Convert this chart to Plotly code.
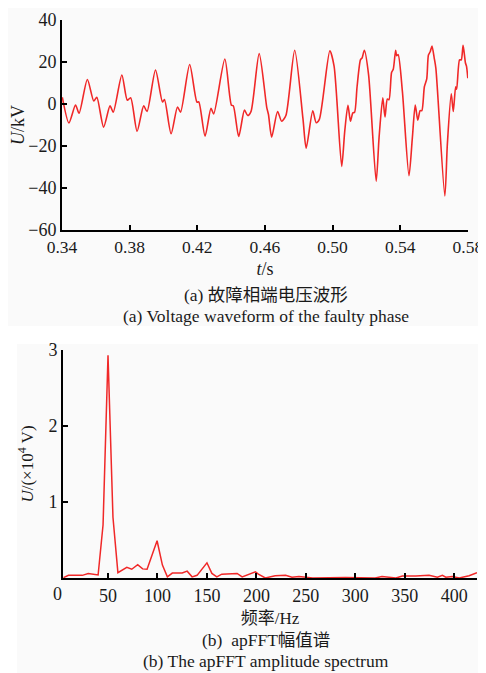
import plotly.graph_objects as go

# ---- Data: (a) voltage waveform of the faulty phase ----
t_s = [0.3402, 0.3441, 0.3480, 0.3501, 0.3550, 0.3588, 0.3606, 0.3646, 0.3684, 0.3703,
       0.3754, 0.3786, 0.3806, 0.3844, 0.3883, 0.3903, 0.3953, 0.3994, 0.4006, 0.4045,
       0.4083, 0.4101, 0.4155, 0.4198, 0.4209, 0.4246, 0.4281, 0.4297, 0.4363, 0.4402,
       0.4413, 0.4445, 0.4479, 0.4498, 0.4518, 0.4566, 0.4611, 0.4621, 0.4640, 0.4675,
       0.4699, 0.4724, 0.4776, 0.4825, 0.4844, 0.4883, 0.4903, 0.4922, 0.4984, 0.5009,
       0.5054, 0.5072, 0.5091, 0.5106, 0.5120, 0.5130, 0.5145, 0.5165, 0.5175, 0.5188,
       0.5213, 0.5258, 0.5275, 0.5297, 0.5310, 0.5324, 0.5334, 0.5349, 0.5359, 0.5373,
       0.5379, 0.5388, 0.5413, 0.5452, 0.5472, 0.5489, 0.5504, 0.5518, 0.5528, 0.5543,
       0.5557, 0.5567, 0.5578, 0.5588, 0.5601, 0.5611, 0.5664, 0.5679, 0.5702, 0.5714,
       0.5728, 0.5734, 0.5751, 0.5761, 0.5772, 0.5786, 0.5792, 0.5800]
u_kv = [3.2, -9.0, -0.5, -4.4, 11.7, 1.4, 3.2, -11.0, -0.9, -3.9,
        13.8, 1.8, 3.0, -13.0, -0.9, -3.6, 16.2, 1.0, 2.1, -14.2,
        -1.4, -3.9, 18.8, 0.9, 1.0, -15.3, -2.1, -4.7, 21.4, -0.6,
        -0.8, -15.5, -2.9, -5.5, -3.5, 24.0, -1.7, -5.0, -15.8, -3.6,
        -8.2, -5.5, 25.6, -7.0, -21.0, -3.2, -8.9, -7.3, 25.3, 18.0,
        -29.7, -13.0, -0.6, -8.2, -4.2, -4.0, 8.2, 21.0, 22.0, 25.6,
        14.0, -36.8, -16.0, 2.9, -6.2, 2.4, 2.0, 15.0, 16.5, 25.6,
        23.0, 23.5, 6.0, -34.2, -16.0, -0.5, -7.7, -3.2, -3.2, 8.2,
        12.0, 23.3, 25.0, 27.6, 22.0, 17.0, -43.8, -19.0, 4.8, -3.6,
        8.2, 7.0, 21.0, 21.0, 27.9, 19.5, 18.0, 12.3]

t_ticks = [0.34, 0.38, 0.42, 0.46, 0.50, 0.54, 0.58]
u_ticks = [-60, -40, -20, 0, 20, 40]

# ---- Data: (b) apFFT amplitude spectrum ----
freq_hz = [5, 10, 24, 30, 40, 45, 50, 55, 60, 64, 69, 74, 80, 85, 89.5, 99.6, 105, 110,
           115, 125, 130, 135, 140, 150, 155, 160, 165, 180.5, 185.6, 199, 202, 209, 219,
           229.5, 236, 243, 250, 257, 290, 320, 327, 341, 347.6, 361, 374.5, 383, 388,
           391.5, 398, 405, 415, 423]
amp_1e4v = [0.005, 0.035, 0.035, 0.06, 0.04, 0.7, 2.93, 0.8, 0.07, 0.1, 0.14, 0.115, 0.175,
            0.12, 0.115, 0.49, 0.17, 0.015, 0.065, 0.065, 0.09, 0.015, 0.035, 0.2, 0.06,
            0.015, 0.05, 0.06, 0.015, 0.08, 0.05, 0.0, 0.03, 0.035, 0.01, 0.02, 0.01, 0.0,
            0.005, 0.0, 0.02, 0.0, 0.025, 0.025, 0.035, 0.01, 0.035, 0.01, 0.02, 0.0,
            0.03, 0.07]

f_ticks = [50, 100, 150, 200, 250, 300, 350, 400]
a_ticks = [1, 2, 3]

# page body has an 8px margin, so the figure is placed at (8, 8) in the window
OFF = 8
W, H = 486 - OFF, 673 - OFF
FONT = "Liberation Serif, Times New Roman, Noto Sans CJK SC, serif"
RED = "#f02828"
TXT = "#1a1a1a"

def px(x):
    return max(0.0, (x - OFF) / W)

def py(y):
    return 1 - (y - OFF) / H

fig = go.Figure()
fig.add_trace(go.Scatter(x=t_s, y=u_kv, mode="lines",
                         line=dict(color=RED, width=1.6, shape="spline", smoothing=0.7),
                         xaxis="x", yaxis="y", showlegend=False))
fig.add_trace(go.Scatter(x=freq_hz, y=amp_1e4v, mode="lines", line=dict(color=RED, width=1.5),
                         xaxis="x2", yaxis="y2", showlegend=False))

axis_common = dict(showgrid=False, zeroline=False, showline=True, linecolor="black", linewidth=2,
                   ticks="inside", ticklen=5, tickwidth=1.5, tickcolor="black", automargin=False,
                   ticklabeloverflow="allow")
tf18 = dict(family=FONT, size=18, color=TXT)

fig.update_layout(
    width=W, height=H,
    margin=dict(l=0, r=0, t=0, b=0, pad=0),
    paper_bgcolor="white", plot_bgcolor="rgba(0,0,0,0)",
    font=dict(family=FONT, color=TXT),
    xaxis=dict(domain=[px(62), px(468)], range=[0.34, 0.5801], tickvals=t_ticks,
               ticktext=[f"{v:.2f}" for v in t_ticks], anchor="y",
               tickfont=dict(family=FONT, size=17.5, color=TXT),
               title=dict(text="<i>t</i>/s", font=tf18, standoff=6),
               **axis_common),
    yaxis=dict(domain=[py(230), py(20)], range=[-60, 40], tickvals=u_ticks,
               ticktext=[str(v).replace("-", "\u2212") for v in u_ticks], anchor="x",
               tickfont=tf18,
               title=dict(text="<i>U</i>/kV", font=tf18, standoff=6),
               **axis_common),
    xaxis2=dict(domain=[px(63), px(477)], range=[4.5, 423], tickvals=f_ticks, anchor="y2",
                tickfont=tf18,
                title=dict(text="频率/Hz", font=dict(family=FONT, size=17, color=TXT), standoff=8),
                **axis_common),
    yaxis2=dict(domain=[py(578), py(350)], range=[0, 3], tickvals=a_ticks, anchor="x2",
                tickfont=tf18,
                title=dict(text="<i>U</i>/(×10<sup>4</sup> V)", font=dict(family=FONT, size=17, color=TXT),
                           standoff=10),
                **axis_common),
)

# light grey panel backgrounds
fig.add_shape(type="rect", xref="paper", yref="paper", x0=px(0), x1=px(485), y0=py(326), y1=py(8),
              fillcolor="#fafafa", line=dict(width=0), layer="below")
fig.add_shape(type="rect", xref="paper", yref="paper", x0=px(17), x1=px(478), y0=py(673), y1=py(344),
              fillcolor="#fafafa", line=dict(width=0), layer="below")

# "0" label at the corner of the spectrum axis
fig.add_annotation(x=px(57.5), y=py(582), xref="paper", yref="paper", text="0", showarrow=False,
                   xanchor="center", yanchor="top", font=tf18)

captions = [
    ("(a) 故障相端电压波形", 266, 295),
    ("(a) Voltage waveform of the faulty phase", 266, 316),
    ("(b)  apFFT幅值谱", 266, 640),
    ("(b) The apFFT amplitude spectrum", 266, 661),
]
for txt, cx, cy in captions:
    fig.add_annotation(x=px(cx), y=py(cy), xref="paper", yref="paper", text=txt, showarrow=False,
                       xanchor="center", yanchor="middle", font=dict(family=FONT, size=17.5, color=TXT))

fig.write_html("out.html")
